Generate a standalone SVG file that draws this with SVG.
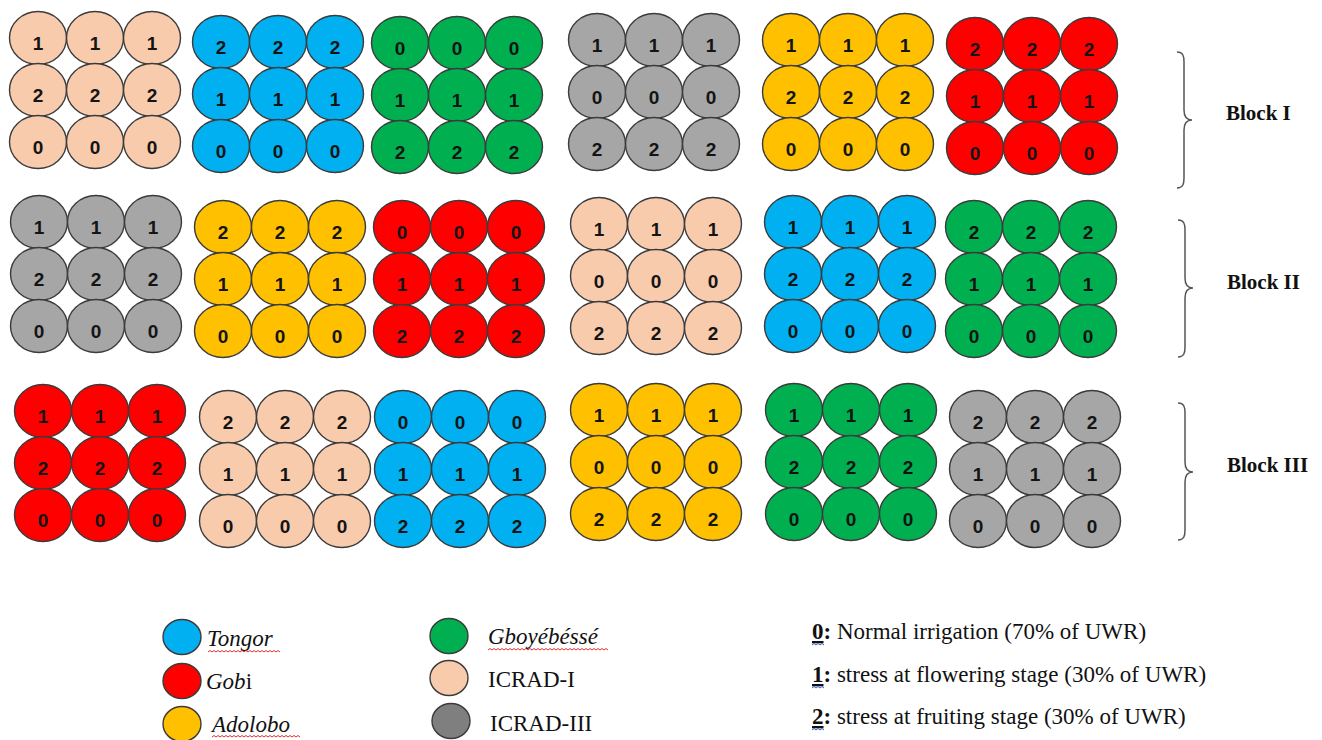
<svg xmlns="http://www.w3.org/2000/svg" width="1322" height="740" viewBox="0 0 1322 740">
<style>
.c{stroke:#3b3b3b;stroke-width:1.4}
.pe{fill:#F8CBAD}.bl{fill:#00B0F0}.gr{fill:#00B050}.gy{fill:#A6A6A6}.ye{fill:#FFC000}.rd{fill:#FF0000}.dg{fill:#7F7F7F}
.n{font-family:"Liberation Sans",Arial,sans-serif;font-weight:bold;font-size:19px;text-anchor:middle;fill:#141414}
.blk{font-family:"Liberation Serif",serif;font-weight:700;font-size:21px;fill:#111}
.lg{font-family:"Liberation Serif",serif;font-size:23px;fill:#111}
.it{font-style:italic}
.b{font-weight:700;text-decoration:underline}
.brace{fill:none;stroke:#555;stroke-width:1.5}
.wr{fill:none;stroke:#E03030;stroke-width:1}
.wb{fill:none;stroke:#3A5FCD;stroke-width:1}
</style>
<rect width="1322" height="740" fill="#fff"/>

<!-- Block I -->
<g id="b1-icrad1">
<ellipse class="c pe" cx="38" cy="38" rx="28.5" ry="26.5"/><ellipse class="c pe" cx="95" cy="38" rx="28.5" ry="26.5"/><ellipse class="c pe" cx="152" cy="38" rx="28.5" ry="26.5"/>
<ellipse class="c pe" cx="38" cy="90" rx="28.5" ry="26.5"/><ellipse class="c pe" cx="95" cy="90" rx="28.5" ry="26.5"/><ellipse class="c pe" cx="152" cy="90" rx="28.5" ry="26.5"/>
<ellipse class="c pe" cx="38" cy="142" rx="28.5" ry="26.5"/><ellipse class="c pe" cx="95" cy="142" rx="28.5" ry="26.5"/><ellipse class="c pe" cx="152" cy="142" rx="28.5" ry="26.5"/>
<text class="n" x="38" y="50">1</text><text class="n" x="95" y="50">1</text><text class="n" x="152" y="50">1</text>
<text class="n" x="38" y="102">2</text><text class="n" x="95" y="102">2</text><text class="n" x="152" y="102">2</text>
<text class="n" x="38" y="154">0</text><text class="n" x="95" y="154">0</text><text class="n" x="152" y="154">0</text>
</g>
<g id="b1-tongor">
<ellipse class="c bl" cx="221" cy="42" rx="28.5" ry="26.5"/><ellipse class="c bl" cx="278" cy="42" rx="28.5" ry="26.5"/><ellipse class="c bl" cx="335" cy="42" rx="28.5" ry="26.5"/>
<ellipse class="c bl" cx="221" cy="94" rx="28.5" ry="26.5"/><ellipse class="c bl" cx="278" cy="94" rx="28.5" ry="26.5"/><ellipse class="c bl" cx="335" cy="94" rx="28.5" ry="26.5"/>
<ellipse class="c bl" cx="221" cy="146" rx="28.5" ry="26.5"/><ellipse class="c bl" cx="278" cy="146" rx="28.5" ry="26.5"/><ellipse class="c bl" cx="335" cy="146" rx="28.5" ry="26.5"/>
<text class="n" x="221" y="54">2</text><text class="n" x="278" y="54">2</text><text class="n" x="335" y="54">2</text>
<text class="n" x="221" y="106">1</text><text class="n" x="278" y="106">1</text><text class="n" x="335" y="106">1</text>
<text class="n" x="221" y="158">0</text><text class="n" x="278" y="158">0</text><text class="n" x="335" y="158">0</text>
</g>
<g id="b1-gboyebesse">
<ellipse class="c gr" cx="400" cy="43" rx="28.5" ry="26.5"/><ellipse class="c gr" cx="457" cy="43" rx="28.5" ry="26.5"/><ellipse class="c gr" cx="514" cy="43" rx="28.5" ry="26.5"/>
<ellipse class="c gr" cx="400" cy="95" rx="28.5" ry="26.5"/><ellipse class="c gr" cx="457" cy="95" rx="28.5" ry="26.5"/><ellipse class="c gr" cx="514" cy="95" rx="28.5" ry="26.5"/>
<ellipse class="c gr" cx="400" cy="147" rx="28.5" ry="26.5"/><ellipse class="c gr" cx="457" cy="147" rx="28.5" ry="26.5"/><ellipse class="c gr" cx="514" cy="147" rx="28.5" ry="26.5"/>
<text class="n" x="400" y="55">0</text><text class="n" x="457" y="55">0</text><text class="n" x="514" y="55">0</text>
<text class="n" x="400" y="107">1</text><text class="n" x="457" y="107">1</text><text class="n" x="514" y="107">1</text>
<text class="n" x="400" y="159">2</text><text class="n" x="457" y="159">2</text><text class="n" x="514" y="159">2</text>
</g>
<g id="b1-icrad3">
<ellipse class="c gy" cx="597" cy="40" rx="28.5" ry="26.5"/><ellipse class="c gy" cx="654" cy="40" rx="28.5" ry="26.5"/><ellipse class="c gy" cx="711" cy="40" rx="28.5" ry="26.5"/>
<ellipse class="c gy" cx="597" cy="92" rx="28.5" ry="26.5"/><ellipse class="c gy" cx="654" cy="92" rx="28.5" ry="26.5"/><ellipse class="c gy" cx="711" cy="92" rx="28.5" ry="26.5"/>
<ellipse class="c gy" cx="597" cy="144" rx="28.5" ry="26.5"/><ellipse class="c gy" cx="654" cy="144" rx="28.5" ry="26.5"/><ellipse class="c gy" cx="711" cy="144" rx="28.5" ry="26.5"/>
<text class="n" x="597" y="52">1</text><text class="n" x="654" y="52">1</text><text class="n" x="711" y="52">1</text>
<text class="n" x="597" y="104">0</text><text class="n" x="654" y="104">0</text><text class="n" x="711" y="104">0</text>
<text class="n" x="597" y="156">2</text><text class="n" x="654" y="156">2</text><text class="n" x="711" y="156">2</text>
</g>
<g id="b1-adolobo">
<ellipse class="c ye" cx="791" cy="40" rx="28.5" ry="26.5"/><ellipse class="c ye" cx="848" cy="40" rx="28.5" ry="26.5"/><ellipse class="c ye" cx="905" cy="40" rx="28.5" ry="26.5"/>
<ellipse class="c ye" cx="791" cy="92" rx="28.5" ry="26.5"/><ellipse class="c ye" cx="848" cy="92" rx="28.5" ry="26.5"/><ellipse class="c ye" cx="905" cy="92" rx="28.5" ry="26.5"/>
<ellipse class="c ye" cx="791" cy="144" rx="28.5" ry="26.5"/><ellipse class="c ye" cx="848" cy="144" rx="28.5" ry="26.5"/><ellipse class="c ye" cx="905" cy="144" rx="28.5" ry="26.5"/>
<text class="n" x="791" y="52">1</text><text class="n" x="848" y="52">1</text><text class="n" x="905" y="52">1</text>
<text class="n" x="791" y="104">2</text><text class="n" x="848" y="104">2</text><text class="n" x="905" y="104">2</text>
<text class="n" x="791" y="156">0</text><text class="n" x="848" y="156">0</text><text class="n" x="905" y="156">0</text>
</g>
<g id="b1-gobi">
<ellipse class="c rd" cx="975" cy="44" rx="28.5" ry="26.5"/><ellipse class="c rd" cx="1032" cy="44" rx="28.5" ry="26.5"/><ellipse class="c rd" cx="1089" cy="44" rx="28.5" ry="26.5"/>
<ellipse class="c rd" cx="975" cy="96" rx="28.5" ry="26.5"/><ellipse class="c rd" cx="1032" cy="96" rx="28.5" ry="26.5"/><ellipse class="c rd" cx="1089" cy="96" rx="28.5" ry="26.5"/>
<ellipse class="c rd" cx="975" cy="148" rx="28.5" ry="26.5"/><ellipse class="c rd" cx="1032" cy="148" rx="28.5" ry="26.5"/><ellipse class="c rd" cx="1089" cy="148" rx="28.5" ry="26.5"/>
<text class="n" x="975" y="56">2</text><text class="n" x="1032" y="56">2</text><text class="n" x="1089" y="56">2</text>
<text class="n" x="975" y="108">1</text><text class="n" x="1032" y="108">1</text><text class="n" x="1089" y="108">1</text>
<text class="n" x="975" y="160">0</text><text class="n" x="1032" y="160">0</text><text class="n" x="1089" y="160">0</text>
</g>

<!-- Block II -->
<g id="b2-icrad3">
<ellipse class="c gy" cx="39" cy="222" rx="28.5" ry="26.5"/><ellipse class="c gy" cx="96" cy="222" rx="28.5" ry="26.5"/><ellipse class="c gy" cx="153" cy="222" rx="28.5" ry="26.5"/>
<ellipse class="c gy" cx="39" cy="274" rx="28.5" ry="26.5"/><ellipse class="c gy" cx="96" cy="274" rx="28.5" ry="26.5"/><ellipse class="c gy" cx="153" cy="274" rx="28.5" ry="26.5"/>
<ellipse class="c gy" cx="39" cy="326" rx="28.5" ry="26.5"/><ellipse class="c gy" cx="96" cy="326" rx="28.5" ry="26.5"/><ellipse class="c gy" cx="153" cy="326" rx="28.5" ry="26.5"/>
<text class="n" x="39" y="234">1</text><text class="n" x="96" y="234">1</text><text class="n" x="153" y="234">1</text>
<text class="n" x="39" y="286">2</text><text class="n" x="96" y="286">2</text><text class="n" x="153" y="286">2</text>
<text class="n" x="39" y="338">0</text><text class="n" x="96" y="338">0</text><text class="n" x="153" y="338">0</text>
</g>
<g id="b2-adolobo">
<ellipse class="c ye" cx="223" cy="227" rx="28.5" ry="26.5"/><ellipse class="c ye" cx="280" cy="227" rx="28.5" ry="26.5"/><ellipse class="c ye" cx="337" cy="227" rx="28.5" ry="26.5"/>
<ellipse class="c ye" cx="223" cy="279" rx="28.5" ry="26.5"/><ellipse class="c ye" cx="280" cy="279" rx="28.5" ry="26.5"/><ellipse class="c ye" cx="337" cy="279" rx="28.5" ry="26.5"/>
<ellipse class="c ye" cx="223" cy="331" rx="28.5" ry="26.5"/><ellipse class="c ye" cx="280" cy="331" rx="28.5" ry="26.5"/><ellipse class="c ye" cx="337" cy="331" rx="28.5" ry="26.5"/>
<text class="n" x="223" y="239">2</text><text class="n" x="280" y="239">2</text><text class="n" x="337" y="239">2</text>
<text class="n" x="223" y="291">1</text><text class="n" x="280" y="291">1</text><text class="n" x="337" y="291">1</text>
<text class="n" x="223" y="343">0</text><text class="n" x="280" y="343">0</text><text class="n" x="337" y="343">0</text>
</g>
<g id="b2-gobi">
<ellipse class="c rd" cx="402" cy="227" rx="28.5" ry="26.5"/><ellipse class="c rd" cx="459" cy="227" rx="28.5" ry="26.5"/><ellipse class="c rd" cx="516" cy="227" rx="28.5" ry="26.5"/>
<ellipse class="c rd" cx="402" cy="279" rx="28.5" ry="26.5"/><ellipse class="c rd" cx="459" cy="279" rx="28.5" ry="26.5"/><ellipse class="c rd" cx="516" cy="279" rx="28.5" ry="26.5"/>
<ellipse class="c rd" cx="402" cy="331" rx="28.5" ry="26.5"/><ellipse class="c rd" cx="459" cy="331" rx="28.5" ry="26.5"/><ellipse class="c rd" cx="516" cy="331" rx="28.5" ry="26.5"/>
<text class="n" x="402" y="239">0</text><text class="n" x="459" y="239">0</text><text class="n" x="516" y="239">0</text>
<text class="n" x="402" y="291">1</text><text class="n" x="459" y="291">1</text><text class="n" x="516" y="291">1</text>
<text class="n" x="402" y="343">2</text><text class="n" x="459" y="343">2</text><text class="n" x="516" y="343">2</text>
</g>
<g id="b2-icrad1">
<ellipse class="c pe" cx="599" cy="224" rx="28.5" ry="26.5"/><ellipse class="c pe" cx="656" cy="224" rx="28.5" ry="26.5"/><ellipse class="c pe" cx="713" cy="224" rx="28.5" ry="26.5"/>
<ellipse class="c pe" cx="599" cy="276" rx="28.5" ry="26.5"/><ellipse class="c pe" cx="656" cy="276" rx="28.5" ry="26.5"/><ellipse class="c pe" cx="713" cy="276" rx="28.5" ry="26.5"/>
<ellipse class="c pe" cx="599" cy="328" rx="28.5" ry="26.5"/><ellipse class="c pe" cx="656" cy="328" rx="28.5" ry="26.5"/><ellipse class="c pe" cx="713" cy="328" rx="28.5" ry="26.5"/>
<text class="n" x="599" y="236">1</text><text class="n" x="656" y="236">1</text><text class="n" x="713" y="236">1</text>
<text class="n" x="599" y="288">0</text><text class="n" x="656" y="288">0</text><text class="n" x="713" y="288">0</text>
<text class="n" x="599" y="340">2</text><text class="n" x="656" y="340">2</text><text class="n" x="713" y="340">2</text>
</g>
<g id="b2-tongor">
<ellipse class="c bl" cx="793" cy="222" rx="28.5" ry="26.5"/><ellipse class="c bl" cx="850" cy="222" rx="28.5" ry="26.5"/><ellipse class="c bl" cx="907" cy="222" rx="28.5" ry="26.5"/>
<ellipse class="c bl" cx="793" cy="274" rx="28.5" ry="26.5"/><ellipse class="c bl" cx="850" cy="274" rx="28.5" ry="26.5"/><ellipse class="c bl" cx="907" cy="274" rx="28.5" ry="26.5"/>
<ellipse class="c bl" cx="793" cy="326" rx="28.5" ry="26.5"/><ellipse class="c bl" cx="850" cy="326" rx="28.5" ry="26.5"/><ellipse class="c bl" cx="907" cy="326" rx="28.5" ry="26.5"/>
<text class="n" x="793" y="234">1</text><text class="n" x="850" y="234">1</text><text class="n" x="907" y="234">1</text>
<text class="n" x="793" y="286">2</text><text class="n" x="850" y="286">2</text><text class="n" x="907" y="286">2</text>
<text class="n" x="793" y="338">0</text><text class="n" x="850" y="338">0</text><text class="n" x="907" y="338">0</text>
</g>
<g id="b2-gboyebesse">
<ellipse class="c gr" cx="974" cy="227" rx="28.5" ry="26.5"/><ellipse class="c gr" cx="1031" cy="227" rx="28.5" ry="26.5"/><ellipse class="c gr" cx="1088" cy="227" rx="28.5" ry="26.5"/>
<ellipse class="c gr" cx="974" cy="279" rx="28.5" ry="26.5"/><ellipse class="c gr" cx="1031" cy="279" rx="28.5" ry="26.5"/><ellipse class="c gr" cx="1088" cy="279" rx="28.5" ry="26.5"/>
<ellipse class="c gr" cx="974" cy="331" rx="28.5" ry="26.5"/><ellipse class="c gr" cx="1031" cy="331" rx="28.5" ry="26.5"/><ellipse class="c gr" cx="1088" cy="331" rx="28.5" ry="26.5"/>
<text class="n" x="974" y="239">2</text><text class="n" x="1031" y="239">2</text><text class="n" x="1088" y="239">2</text>
<text class="n" x="974" y="291">1</text><text class="n" x="1031" y="291">1</text><text class="n" x="1088" y="291">1</text>
<text class="n" x="974" y="343">0</text><text class="n" x="1031" y="343">0</text><text class="n" x="1088" y="343">0</text>
</g>

<!-- Block III -->
<g id="b3-gobi">
<ellipse class="c rd" cx="43" cy="411" rx="28.5" ry="26.5"/><ellipse class="c rd" cx="100" cy="411" rx="28.5" ry="26.5"/><ellipse class="c rd" cx="157" cy="411" rx="28.5" ry="26.5"/>
<ellipse class="c rd" cx="43" cy="463" rx="28.5" ry="26.5"/><ellipse class="c rd" cx="100" cy="463" rx="28.5" ry="26.5"/><ellipse class="c rd" cx="157" cy="463" rx="28.5" ry="26.5"/>
<ellipse class="c rd" cx="43" cy="515" rx="28.5" ry="26.5"/><ellipse class="c rd" cx="100" cy="515" rx="28.5" ry="26.5"/><ellipse class="c rd" cx="157" cy="515" rx="28.5" ry="26.5"/>
<text class="n" x="43" y="423">1</text><text class="n" x="100" y="423">1</text><text class="n" x="157" y="423">1</text>
<text class="n" x="43" y="475">2</text><text class="n" x="100" y="475">2</text><text class="n" x="157" y="475">2</text>
<text class="n" x="43" y="527">0</text><text class="n" x="100" y="527">0</text><text class="n" x="157" y="527">0</text>
</g>
<g id="b3-icrad1">
<ellipse class="c pe" cx="228" cy="417" rx="28.5" ry="26.5"/><ellipse class="c pe" cx="285" cy="417" rx="28.5" ry="26.5"/><ellipse class="c pe" cx="342" cy="417" rx="28.5" ry="26.5"/>
<ellipse class="c pe" cx="228" cy="469" rx="28.5" ry="26.5"/><ellipse class="c pe" cx="285" cy="469" rx="28.5" ry="26.5"/><ellipse class="c pe" cx="342" cy="469" rx="28.5" ry="26.5"/>
<ellipse class="c pe" cx="228" cy="521" rx="28.5" ry="26.5"/><ellipse class="c pe" cx="285" cy="521" rx="28.5" ry="26.5"/><ellipse class="c pe" cx="342" cy="521" rx="28.5" ry="26.5"/>
<text class="n" x="228" y="429">2</text><text class="n" x="285" y="429">2</text><text class="n" x="342" y="429">2</text>
<text class="n" x="228" y="481">1</text><text class="n" x="285" y="481">1</text><text class="n" x="342" y="481">1</text>
<text class="n" x="228" y="533">0</text><text class="n" x="285" y="533">0</text><text class="n" x="342" y="533">0</text>
</g>
<g id="b3-tongor">
<ellipse class="c bl" cx="403" cy="417" rx="28.5" ry="26.5"/><ellipse class="c bl" cx="460" cy="417" rx="28.5" ry="26.5"/><ellipse class="c bl" cx="517" cy="417" rx="28.5" ry="26.5"/>
<ellipse class="c bl" cx="403" cy="469" rx="28.5" ry="26.5"/><ellipse class="c bl" cx="460" cy="469" rx="28.5" ry="26.5"/><ellipse class="c bl" cx="517" cy="469" rx="28.5" ry="26.5"/>
<ellipse class="c bl" cx="403" cy="521" rx="28.5" ry="26.5"/><ellipse class="c bl" cx="460" cy="521" rx="28.5" ry="26.5"/><ellipse class="c bl" cx="517" cy="521" rx="28.5" ry="26.5"/>
<text class="n" x="403" y="429">0</text><text class="n" x="460" y="429">0</text><text class="n" x="517" y="429">0</text>
<text class="n" x="403" y="481">1</text><text class="n" x="460" y="481">1</text><text class="n" x="517" y="481">1</text>
<text class="n" x="403" y="533">2</text><text class="n" x="460" y="533">2</text><text class="n" x="517" y="533">2</text>
</g>
<g id="b3-adolobo">
<ellipse class="c ye" cx="599" cy="410" rx="28.5" ry="26.5"/><ellipse class="c ye" cx="656" cy="410" rx="28.5" ry="26.5"/><ellipse class="c ye" cx="713" cy="410" rx="28.5" ry="26.5"/>
<ellipse class="c ye" cx="599" cy="462" rx="28.5" ry="26.5"/><ellipse class="c ye" cx="656" cy="462" rx="28.5" ry="26.5"/><ellipse class="c ye" cx="713" cy="462" rx="28.5" ry="26.5"/>
<ellipse class="c ye" cx="599" cy="514" rx="28.5" ry="26.5"/><ellipse class="c ye" cx="656" cy="514" rx="28.5" ry="26.5"/><ellipse class="c ye" cx="713" cy="514" rx="28.5" ry="26.5"/>
<text class="n" x="599" y="422">1</text><text class="n" x="656" y="422">1</text><text class="n" x="713" y="422">1</text>
<text class="n" x="599" y="474">0</text><text class="n" x="656" y="474">0</text><text class="n" x="713" y="474">0</text>
<text class="n" x="599" y="526">2</text><text class="n" x="656" y="526">2</text><text class="n" x="713" y="526">2</text>
</g>
<g id="b3-gboyebesse">
<ellipse class="c gr" cx="794" cy="410" rx="28.5" ry="26.5"/><ellipse class="c gr" cx="851" cy="410" rx="28.5" ry="26.5"/><ellipse class="c gr" cx="908" cy="410" rx="28.5" ry="26.5"/>
<ellipse class="c gr" cx="794" cy="462" rx="28.5" ry="26.5"/><ellipse class="c gr" cx="851" cy="462" rx="28.5" ry="26.5"/><ellipse class="c gr" cx="908" cy="462" rx="28.5" ry="26.5"/>
<ellipse class="c gr" cx="794" cy="514" rx="28.5" ry="26.5"/><ellipse class="c gr" cx="851" cy="514" rx="28.5" ry="26.5"/><ellipse class="c gr" cx="908" cy="514" rx="28.5" ry="26.5"/>
<text class="n" x="794" y="422">1</text><text class="n" x="851" y="422">1</text><text class="n" x="908" y="422">1</text>
<text class="n" x="794" y="474">2</text><text class="n" x="851" y="474">2</text><text class="n" x="908" y="474">2</text>
<text class="n" x="794" y="526">0</text><text class="n" x="851" y="526">0</text><text class="n" x="908" y="526">0</text>
</g>
<g id="b3-icrad3">
<ellipse class="c gy" cx="978" cy="417" rx="28.5" ry="26.5"/><ellipse class="c gy" cx="1035" cy="417" rx="28.5" ry="26.5"/><ellipse class="c gy" cx="1092" cy="417" rx="28.5" ry="26.5"/>
<ellipse class="c gy" cx="978" cy="469" rx="28.5" ry="26.5"/><ellipse class="c gy" cx="1035" cy="469" rx="28.5" ry="26.5"/><ellipse class="c gy" cx="1092" cy="469" rx="28.5" ry="26.5"/>
<ellipse class="c gy" cx="978" cy="521" rx="28.5" ry="26.5"/><ellipse class="c gy" cx="1035" cy="521" rx="28.5" ry="26.5"/><ellipse class="c gy" cx="1092" cy="521" rx="28.5" ry="26.5"/>
<text class="n" x="978" y="429">2</text><text class="n" x="1035" y="429">2</text><text class="n" x="1092" y="429">2</text>
<text class="n" x="978" y="481">1</text><text class="n" x="1035" y="481">1</text><text class="n" x="1092" y="481">1</text>
<text class="n" x="978" y="533">0</text><text class="n" x="1035" y="533">0</text><text class="n" x="1092" y="533">0</text>
</g>

<!-- braces (connectors group) -->
<g id="connectors">
<path class="brace" d="M1177,52 C1183,52 1184,56 1184,62 L1184,110 C1184,116 1186,120 1192,120 C1186,120 1184,124 1184,130 L1184,178 C1184,184 1183,188 1177,188"/>
<path class="brace" d="M1178,220 C1184,220 1185,224 1185,230 L1185,278 C1185,284 1187,288 1193,288 C1187,288 1185,292 1185,298 L1185,347 C1185,353 1184,357 1178,357"/>
<path class="brace" d="M1178,403 C1184,403 1185,407 1185,413 L1185,462 C1185,468 1187,472 1193,472 C1187,472 1185,476 1185,482 L1185,530 C1185,536 1184,540 1178,540"/>
</g>
<g id="block-labels">
<text class="blk" x="1226" y="120">Block I</text>
<text class="blk" x="1227" y="289">Block II</text>
<text class="blk" x="1227" y="472">Block III</text>
</g>

<!-- legend -->
<g id="legend-tongor">
<ellipse class="c bl" cx="182" cy="637" rx="19" ry="17.5"/>
<text class="lg it" x="207" y="646">Tongor</text>
<path class="wr" d="M208,652l2-1.5 2 1.5 2-1.5 2 1.5 2-1.5 2 1.5 2-1.5 2 1.5 2-1.5 2 1.5 2-1.5 2 1.5 2-1.5 2 1.5 2-1.5 2 1.5 2-1.5 2 1.5 2-1.5 2 1.5 2-1.5 2 1.5 2-1.5 2 1.5 2-1.5 2 1.5 2-1.5 2 1.5 2-1.5 2 1.5 2-1.5 2 1.5 2-1.5 2 1.5 2-1.5 2 1.5"/>
</g>
<g id="legend-gobi">
<ellipse class="c rd" cx="182" cy="681" rx="19" ry="17.5"/>
<text class="lg" x="206" y="689"><tspan class="it">Gob</tspan>i</text>
</g>
<g id="legend-adolobo">
<ellipse class="c ye" cx="182" cy="724" rx="19" ry="17.5"/>
<text class="lg it" x="212" y="732">Adolobo</text>
<path class="wr" d="M212,737l2-1.5 2 1.5 2-1.5 2 1.5 2-1.5 2 1.5 2-1.5 2 1.5 2-1.5 2 1.5 2-1.5 2 1.5 2-1.5 2 1.5 2-1.5 2 1.5 2-1.5 2 1.5 2-1.5 2 1.5 2-1.5 2 1.5 2-1.5 2 1.5 2-1.5 2 1.5 2-1.5 2 1.5 2-1.5 2 1.5 2-1.5 2 1.5 2-1.5 2 1.5 2-1.5 2 1.5 2-1.5 2 1.5 2-1.5 2 1.5 2-1.5 2 1.5 2-1.5 2 1.5"/>
</g>
<g id="legend-gboyebesse">
<ellipse class="c gr" cx="449" cy="636" rx="19" ry="17.5"/>
<text class="lg it" x="488" y="644">Gboyébéssé</text>
<path class="wr" d="M488,650l2-1.5 2 1.5 2-1.5 2 1.5 2-1.5 2 1.5 2-1.5 2 1.5 2-1.5 2 1.5 2-1.5 2 1.5 2-1.5 2 1.5 2-1.5 2 1.5 2-1.5 2 1.5 2-1.5 2 1.5 2-1.5 2 1.5 2-1.5 2 1.5 2-1.5 2 1.5 2-1.5 2 1.5 2-1.5 2 1.5 2-1.5 2 1.5 2-1.5 2 1.5 2-1.5 2 1.5 2-1.5 2 1.5 2-1.5 2 1.5 2-1.5 2 1.5 2-1.5 2 1.5 2-1.5 2 1.5 2-1.5 2 1.5 2-1.5 2 1.5 2-1.5 2 1.5 2-1.5 2 1.5 2-1.5 2 1.5 2-1.5 2 1.5 2-1.5 2 1.5"/>
</g>
<g id="legend-icrad1">
<ellipse class="c pe" cx="449" cy="678" rx="19" ry="17.5"/>
<text class="lg" x="488" y="687">ICRAD-I</text>
</g>
<g id="legend-icrad3">
<ellipse class="c dg" cx="451" cy="721" rx="19" ry="17.5"/>
<text class="lg" x="490" y="731">ICRAD-III</text>
</g>
<g id="legend-treatments">
<text class="lg" x="812" y="639"><tspan class="b">0</tspan><tspan font-weight="700">:</tspan> Normal irrigation (70% of UWR)</text>
<text class="lg" x="812" y="682"><tspan class="b">1</tspan><tspan font-weight="700">:</tspan> stress at flowering stage (30% of UWR)</text>
<text class="lg" x="812" y="724"><tspan class="b">2</tspan><tspan font-weight="700">:</tspan> stress at fruiting stage (30% of UWR)</text>
<path class="wb" d="M812,645l2-1.5 2 1.5 2-1.5 2 1.5 2-1.5 2 1.5"/>
<path class="wb" d="M812,688l2-1.5 2 1.5 2-1.5 2 1.5 2-1.5 2 1.5"/>
<path class="wb" d="M812,730l2-1.5 2 1.5 2-1.5 2 1.5 2-1.5 2 1.5"/>
</g>
</svg>
